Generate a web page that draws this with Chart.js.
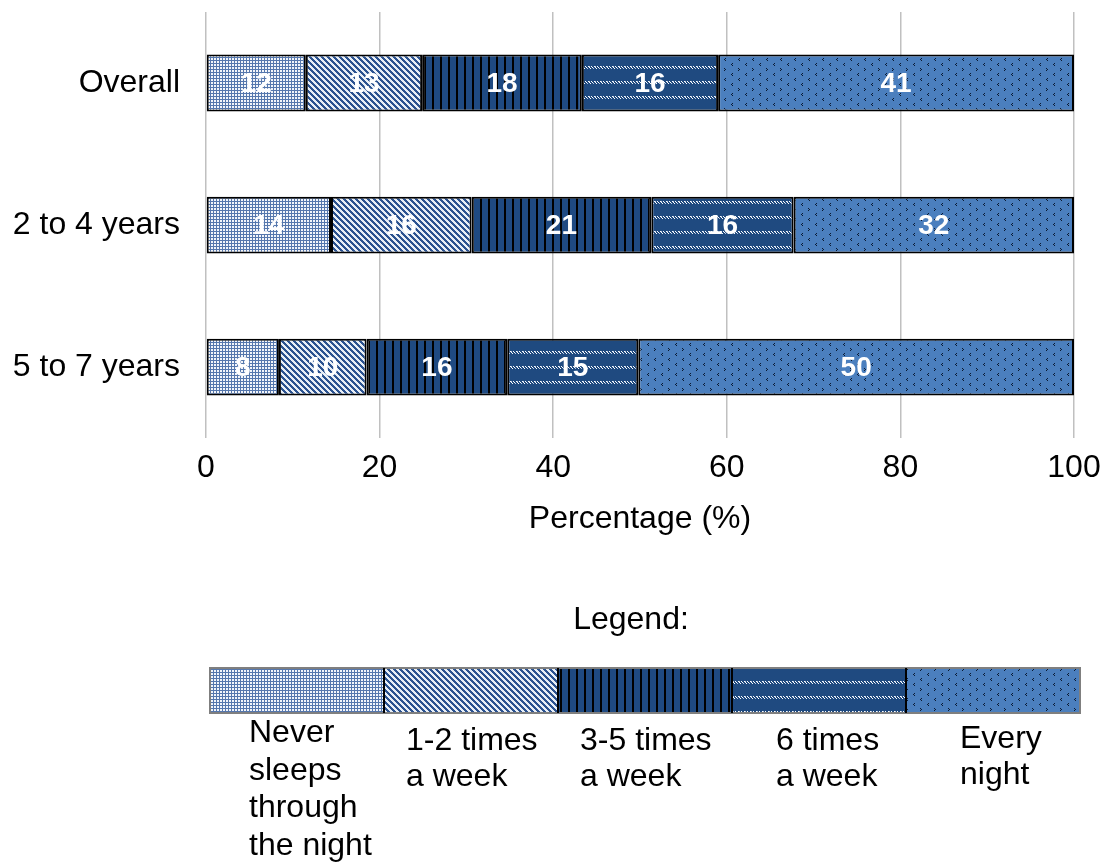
<!DOCTYPE html>
<html>
<head>
<meta charset="utf-8">
<script src="https://cdn.jsdelivr.net/npm/chart.js@4.4.1/dist/chart.umd.min.js"></script>
<style>
  html, body { margin: 0; padding: 0; background: #fff; }
  #wrap { width: 1106px; height: 864px; }
</style>
</head>
<body>
<div id="wrap"><canvas id="chart" width="1106" height="864"></canvas></div>
<script>
// categories (rows) and values (%)
const categories = ['Overall', '2 to 4 years', '5 to 7 years']
const neverSleeps = [11.5, 14.4, 8.4]
const oneTwoTimes = [13.4, 16.2, 10.1]
const threeFiveTimes = [18.4, 20.7, 16.2]
const sixTimes = [15.7, 16.4, 15.1]
const everyNight = [41.0, 32.3, 50.2]
const xTicks = [0, 20, 40, 60, 80, 100]
// legend texts, one entry per line
const seriesNames = [
  ['Never', 'sleeps', 'through', 'the night'],
  ['1-2 times', 'a week'],
  ['3-5 times', 'a week'],
  ['6 times', 'a week'],
  ['Every', 'night']
]

const FONT = '"Liberation Sans", Arial, sans-serif'

function makeTile(w, h, draw) {
  const c = document.createElement('canvas')
  c.width = w
  c.height = h
  const g = c.getContext('2d')
  draw(g)
  return document.createElement('canvas').getContext('2d').createPattern(c, 'repeat')
}

// 填充图案
function getPatterns() {
  // fine grid / dots
  const p1 = makeTile(3, 3, g => {
    g.fillStyle = '#5577ad'
    g.fillRect(0, 0, 3, 3)
    g.fillStyle = '#f2f5fa'
    g.fillRect(1, 1, 2, 2)
  })
  // diagonal stripes
  const p2 = makeTile(6, 6, g => {
    g.fillStyle = '#e8eef6'
    g.fillRect(0, 0, 6, 6)
    g.fillStyle = '#2b5290'
    for (let i = 0; i < 6; i++) {
      for (let k = 0; k < 3; k++) {
        g.fillRect((i + k) % 6, i, 1, 1)
      }
    }
  })
  // vertical black lines on navy
  const p3 = makeTile(8, 4, g => {
    g.fillStyle = '#1f4a82'
    g.fillRect(0, 0, 8, 4)
    g.fillStyle = '#000'
    g.fillRect(0, 0, 2, 4)
  })
  // wavy dashed rows
  const p4 = makeTile(6, 15, g => {
    g.fillStyle = '#1f4a80'
    g.fillRect(0, 0, 6, 15)
    g.fillStyle = '#ffffff'
    g.fillRect(0, 6, 1, 1)
    g.fillRect(1, 7, 1, 1)
    g.fillRect(2, 8, 1, 1)
    g.fillRect(3, 6, 1, 1)
    g.fillRect(4, 7, 1, 1)
    g.fillStyle = '#b8c8e0'
    g.fillRect(5, 8, 1, 1)
    g.fillRect(1, 6, 1, 1)
  })
  // small marks on medium blue
  const p5 = makeTile(14, 20, g => {
    g.fillStyle = '#4b7fbe'
    g.fillRect(0, 0, 14, 20)
    g.fillStyle = '#0a1a33'
    g.fillRect(4, 3, 1, 1)
    g.fillRect(3, 4, 1, 1)
    g.fillRect(4, 5, 1, 1)
    g.fillRect(10, 8, 1, 1)
    g.fillRect(11, 9, 1, 1)
    g.fillRect(10, 10, 1, 1)
    g.fillRect(4, 13, 1, 1)
    g.fillRect(3, 14, 1, 1)
    g.fillRect(4, 15, 1, 1)
    g.fillRect(11, 18, 1, 1)
    g.fillRect(10, 19, 1, 1)
    g.fillRect(11, 0, 1, 1)
  })
  return [p1, p2, p3, p4, p5]
}

const patterns = getPatterns()
const seriesValues = [neverSleeps, oneTwoTimes, threeFiveTimes, sixTimes, everyNight]

const datasets = seriesValues.map((vals, i) => {
  return {
    label: seriesNames[i].join(' '),
    data: vals,
    backgroundColor: patterns[i],
    borderColor: '#000',
    borderWidth: 2,
    borderSkipped: false,
    categoryPercentage: 0.4,
    barPercentage: 1
  }
})

// 数值标签
const valueLabels = {
  id: 'valueLabels',
  afterDatasetsDraw(chart) {
    const ctx = chart.ctx
    ctx.save()
    ctx.fillStyle = '#fff'
    ctx.font = 'bold 28px ' + FONT
    ctx.textAlign = 'center'
    ctx.textBaseline = 'middle'
    chart.data.datasets.forEach((ds, di) => {
      const meta = chart.getDatasetMeta(di)
      meta.data.forEach((bar, j) => {
        const p = bar.getCenterPoint()
        ctx.fillText(String(Math.round(ds.data[j])), p.x, p.y + 1)
      })
    })
    ctx.restore()
  }
}

// legend drawn as a strip of pattern boxes with text underneath
const stripLegend = {
  id: 'stripLegend',
  afterDraw(chart) {
    const ctx = chart.ctx
    const left = 210
    const top = 668
    const boxW = 174
    const boxH = 45
    const textX = [249, 406, 580, 776, 960]
    ctx.save()
    ctx.fillStyle = '#000'
    ctx.font = '32px ' + FONT
    ctx.textAlign = 'center'
    ctx.textBaseline = 'middle'
    ctx.fillText('Legend:', 631, 620)

    patterns.forEach((pat, i) => {
      ctx.fillStyle = pat
      ctx.fillRect(left + i * boxW, top, boxW, boxH)
    })
    ctx.strokeStyle = '#7f7f7f'
    ctx.lineWidth = 2
    ctx.strokeRect(left, top, boxW * 5, boxH)
    ctx.strokeStyle = '#000'
    for (let i = 1; i < 5; i++) {
      ctx.beginPath()
      ctx.moveTo(left + i * boxW, top)
      ctx.lineTo(left + i * boxW, top + boxH)
      ctx.stroke()
    }

    ctx.textAlign = 'left'
    ctx.fillStyle = '#000'
    seriesNames.forEach((lines, i) => {
      const y0 = i === 0 ? 733 : (i === 4 ? 739 : 741)
      const step = i === 0 ? 37.7 : 36
      lines.forEach((l, k) => {
        ctx.fillText(l, textX[i], y0 + k * step)
      })
    })
    ctx.restore()
  }
}

const config = {
  type: 'bar',
  data: { labels: categories, datasets: datasets },
  options: {
    indexAxis: 'y',
    responsive: false,
    animation: false,
    events: [],
    layout: { padding: { top: 12, right: 32, bottom: 326, left: 0 } },
    scales: {
      x: {
        stacked: true,
        min: 0,
        max: 100,
        afterBuildTicks: scale => {
          scale.ticks = xTicks.map(v => ({ value: v }))
        },
        afterFit: scale => {
          scale.paddingLeft = 0
          scale.paddingRight = 0
        },
        ticks: { color: '#000', font: { size: 32, family: FONT }, padding: 11 },
        grid: { color: '#c0c0c0', lineWidth: 1.5, drawTicks: false },
        border: { display: false },
        title: {
          display: true,
          text: 'Percentage (%)',
          color: '#000',
          font: { size: 32, family: FONT },
          padding: { top: 1, bottom: 0 }
        }
      },
      y: {
        stacked: true,
        grid: { display: false },
        border: { display: false },
        ticks: { color: '#000', font: { size: 32, family: FONT }, padding: 18 },
        afterFit: scale => {
          scale.width = 206
          scale.paddingTop = 0
          scale.paddingBottom = 0
        }
      }
    },
    plugins: {
      legend: { display: false },
      tooltip: { enabled: false }
    }
  },
  plugins: [valueLabels, stripLegend]
}

new Chart(document.getElementById('chart').getContext('2d'), config)
</script>
</body>
</html>
